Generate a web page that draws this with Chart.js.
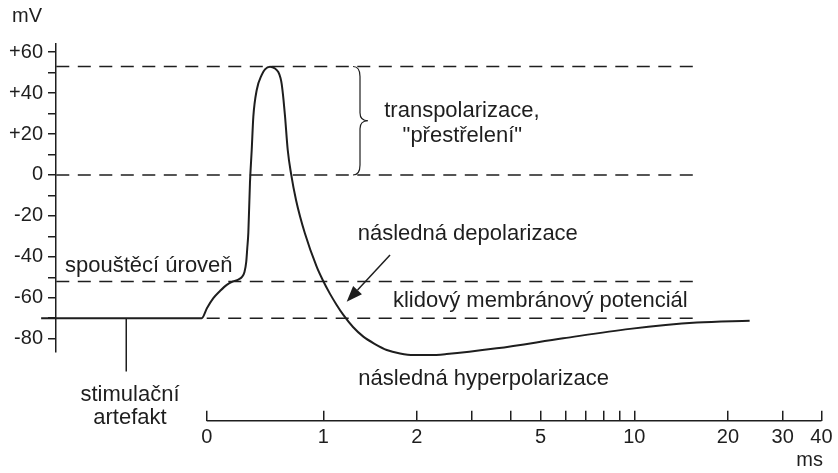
<!DOCTYPE html>
<html>
<head>
<meta charset="utf-8">
<script src="https://cdn.jsdelivr.net/npm/chart.js@4/dist/chart.umd.min.js"></script>
<style>
  html, body { margin: 0; padding: 0; background: #fff; }
  .ActionPotential { position: relative; width: 838px; height: 473px; }
</style>
</head>
<body>
<div class="ActionPotential">
  <canvas id="myChart"></canvas>
</div>
<script>
// membrane potential trace (time in ms, potential in mV)
const traceMs = [-1.42, -0.043, 0.003, 0.057, 0.114, 0.172, 0.226, 0.271, 0.303, 0.324, 0.339, 0.348,
  0.357, 0.371, 0.386, 0.400, 0.429, 0.472, 0.500, 0.543, 0.586, 0.614, 0.633, 0.643, 0.659, 0.672,
  0.695, 0.723, 0.766, 0.842, 0.943, 0.995, 1.051, 1.104, 1.160, 1.246, 1.345, 1.466, 1.60, 1.765,
  1.95, 2.20, 2.49, 3.61, 5.91, 9.69, 15.9, 23.5];
const traceMv = [-70, -70, -65.0, -60.2, -56.7, -53.7, -52.0, -51.1, -49.8, -47.4, -42.5, -35.7,
  -28.3, -3.9, 12.2, 28.5, 41.5, 48.9, 51.6, 52.9, 52.0, 50.3, 47.4, 44.5, 36.6, 28.5,
  12.2, 0.8, -12.2, -28.5, -44.8, -51.3, -58.1, -63.5, -68.4, -74.3, -79.0, -82.6, -85.5, -87.2,
  -88.0, -88.0, -87.5, -84.7, -79.8, -75.2, -72.1, -71.2];

// dashed reference levels
const refLevelsMv = [53, 0, -52];
const restMv = -70;
const refEndMs = 16;

// stimulus artefact
const stimMs = -0.69;
const stimMv = [-70, -96];

// axes
const mvTicks = [-80, -70, -60, -50, -40, -30, -20, -10, 0, 10, 20, 30, 40, 50, 60];
const msTicks = [0, 1, 2, 3, 4, 5, 6, 7, 8, 9, 10, 20, 30, 40];
const msLabelled = [0, 1, 2, 5, 10, 20, 30, 40];

// texts: [text, ms, mV, align, size]
const notes = [
  ['mV', -1.67, 74.8, 'left', 20],
  ['transpolarizace,', 2.79, 28.3, 'center', 22],
  ['"přestřelení"', 2.80, 16.1, 'center', 22],
  ['následná depolarizace', 1.29, -31.8, 'left', 22],
  ['spouštěcí úroveň', -1.215, -47.4, 'left', 22],
  ['klidový membránový potenciál', 1.675, -64.5, 'left', 22],
  ['následná hyperpolarizace', 1.296, -102.6, 'left', 22],
  ['stimulační', -0.658, -110.4, 'center', 22],
  ['artefakt', -0.658, -121.7, 'center', 22],
];
const braceMs = 1.246;
const arrowFrom = [1.639, -39.1];
const arrowTo = [1.189, -62.0];

// x axis: linear up to 1 ms, logarithmic above
const DECADE = 2.667;
const toU = ms => (ms <= 1 ? ms : 1 + Math.log10(ms) * DECADE);

const INK = '#1e1e1e';
Chart.defaults.font.family = '"Liberation Sans", Arial, sans-serif';
Chart.defaults.color = INK;

const line = (pts, dashed, width) => ({
  data: pts,
  borderColor: INK,
  borderWidth: width,
  borderDash: dashed ? [13, 8.5] : [],
  pointRadius: 0,
  fill: false,
  clip: false,
});

const datasets = [];
refLevelsMv.forEach(v => {
  datasets.push(line([{ x: toU(-1.29), y: v }, { x: toU(refEndMs), y: v }], true, 1.5));
});
datasets.push(line([{ x: toU(0), y: restMv }, { x: toU(refEndMs), y: restMv }], true, 1.5));
datasets.push(line(stimMv.map(v => ({ x: toU(stimMs), y: v })), false, 1.5));
const trace = line(traceMs.map((t, i) => ({ x: toU(t), y: traceMv[i] })), false, 2);
trace.cubicInterpolationMode = 'monotone';
datasets.push(trace);

const extras = {
  id: 'extras',
  afterDatasetsDraw(chart) {
    const { ctx } = chart;
    const xs = chart.scales.x, ys = chart.scales.y, ms = chart.scales.ms;
    const px = t => xs.getPixelForValue(toU(t));
    const py = v => ys.getPixelForValue(v);
    ctx.save();
    ctx.strokeStyle = INK;
    ctx.fillStyle = INK;

    // ms axis line
    ctx.lineWidth = 1.5;
    ctx.beginPath();
    ctx.moveTo(ms.getPixelForValue(toU(0)), ms.top);
    ctx.lineTo(ms.getPixelForValue(toU(40)), ms.top);
    ctx.stroke();

    // texts
    ctx.textBaseline = 'alphabetic';
    notes.forEach(([txt, t, v, align, size]) => {
      ctx.font = size + 'px "Liberation Sans", Arial, sans-serif';
      ctx.textAlign = align;
      ctx.fillText(txt, px(t), py(v));
    });

    // brace
    const bx = px(braceMs), top = py(refLevelsMv[0]), bot = py(0), mid = (top + bot) / 2;
    ctx.lineWidth = 1.2;
    ctx.beginPath();
    ctx.moveTo(bx, top);
    ctx.quadraticCurveTo(bx + 7, top, bx + 7, top + 10);
    ctx.lineTo(bx + 7, mid - 8);
    ctx.quadraticCurveTo(bx + 7, mid, bx + 15, mid);
    ctx.quadraticCurveTo(bx + 7, mid, bx + 7, mid + 8);
    ctx.lineTo(bx + 7, bot - 10);
    ctx.quadraticCurveTo(bx + 7, bot, bx, bot);
    ctx.stroke();

    // arrow
    const x1 = px(arrowFrom[0]), y1 = py(arrowFrom[1]);
    const x2 = px(arrowTo[0]), y2 = py(arrowTo[1]);
    const a = Math.atan2(y2 - y1, x2 - x1);
    const hl = 16, hw = 6;
    const bxA = x2 - hl * Math.cos(a), byA = y2 - hl * Math.sin(a);
    ctx.lineWidth = 1.5;
    ctx.beginPath();
    ctx.moveTo(x1, y1);
    ctx.lineTo(bxA, byA);
    ctx.stroke();
    ctx.beginPath();
    ctx.moveTo(x2, y2);
    ctx.lineTo(bxA + hw * Math.sin(a), byA - hw * Math.cos(a));
    ctx.lineTo(bxA - hw * Math.sin(a), byA + hw * Math.cos(a));
    ctx.closePath();
    ctx.fill();
    ctx.restore();
  }
};

new Chart(document.getElementById('myChart'), {
  type: 'line',
  data: { datasets },
  options: {
    responsive: true,
    maintainAspectRatio: false,
    animation: false,
    layout: { padding: { top: 44, right: 15, left: 0, bottom: 0 } },
    plugins: { legend: { display: false }, tooltip: { enabled: false } },
    scales: {
      x: {
        type: 'linear',
        min: toU(-1.2925),
        max: toU(40.45),
        position: 'bottom',
        weight: 0,
        ticks: { display: false },
        grid: { display: false },
        border: { display: false },
        afterFit: s => { s.height = 68.7; },
      },
      ms: {
        type: 'linear',
        axis: 'x',
        min: toU(-1.2925),
        max: toU(40.45),
        position: 'bottom',
        weight: 1,
        afterBuildTicks: s => { s.ticks = msTicks.map(t => ({ value: toU(t) })); },
        ticks: {
          autoSkip: false,
          maxRotation: 0,
          padding: 3,
          font: { size: 20, lineHeight: 2.4 },
          color: INK,
          callback: (v, i) => (msLabelled.includes(msTicks[i]) ? String(msTicks[i]) : ''),
        },
        grid: { drawOnChartArea: false, drawTicks: true, tickLength: -10, color: INK, lineWidth: 1.5 },
        border: { display: false },
        title: { display: true, text: 'ms', align: 'end', font: { size: 20 }, color: INK, padding: { top: 0, bottom: 1 } },
        afterFit: s => { s.height = 52.3; },
      },
      y: {
        type: 'linear',
        min: -86.5,
        max: 64,
        position: 'left',
        afterBuildTicks: s => { s.ticks = mvTicks.map(v => ({ value: v })); },
        ticks: {
          autoSkip: false,
          padding: 5,
          font: { size: 20 },
          color: INK,
          callback: v => (v % 20 === 0 ? (v > 0 ? '+' + v : String(v)) : ''),
        },
        grid: { drawOnChartArea: false, drawTicks: true, tickLength: 8, color: INK, lineWidth: 1.5 },
        border: { display: true, color: INK, width: 1.5 },
        afterFit: s => { s.width = 56; },
      },
    },
  },
  plugins: [extras],
});
</script>
</body>
</html>
